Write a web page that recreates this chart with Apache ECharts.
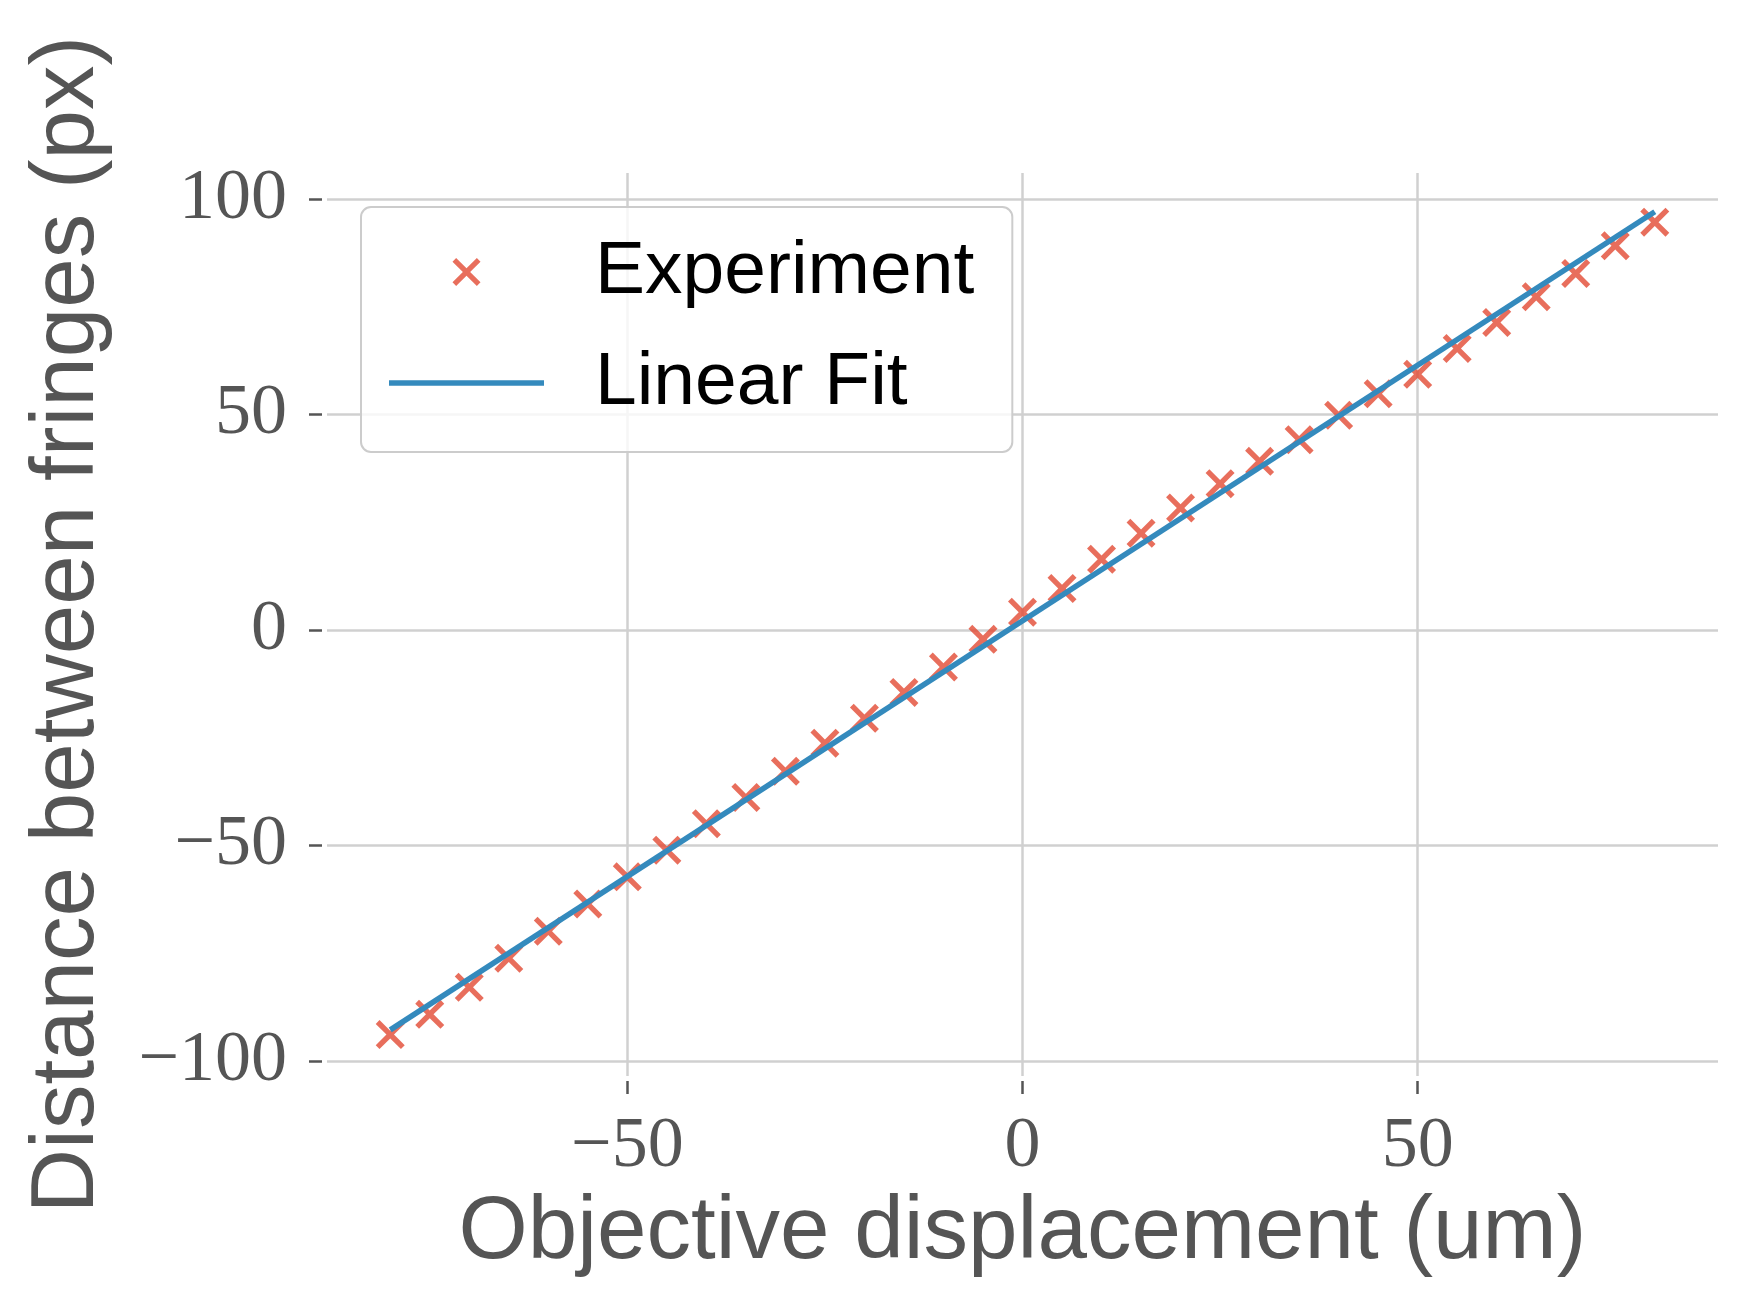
<!DOCTYPE html>
<html>
<head>
<meta charset="utf-8">
<script src="https://cdn.jsdelivr.net/npm/echarts@6/dist/echarts.min.js"></script>
<style>
    html, body { margin: 0; padding: 0; background: #ffffff; }
    #chart-container { width: 1753px; height: 1313px; }
</style>
</head>
<body>
<div id="chart-container"></div>
<script>
// objective displacement (um) and measured fringe distance (px)
const displacement = [-80, -75, -70, -65, -60, -55, -50, -45, -40, -35, -30, -25, -20, -15, -10, -5,
    0, 5, 10, 15, 20, 25, 30, 35, 40, 45, 50, 55, 60, 65, 70, 75, 80];
const fringeDistance = [-93.9, -89.2, -82.9, -76.2, -69.9, -63.6, -57.3, -51.1, -45.0, -38.9, -32.8, -26.3,
    -20.5, -14.5, -8.6, -2.2, 4.1, 9.6, 16.4, 22.4, 28.3, 33.9, 39.1, 44.1, 49.8, 54.8, 59.3, 65.3,
    71.3, 77.3, 82.7, 89.1, 94.6];
const fitX = [-80, 80];
const fitY = [-92.8, 97.0];

const xTicks = [-50, 0, 50];
const yTicks = [-100, -50, 0, 50, 100];

// filled "x" marker, like matplotlib's 'x'
const crossPath = 'path://M0,13L13,0L50,37L87,0L100,13L63,50L100,87L87,100L50,63L13,100L0,87L37,50Z';
// legend handle for the fit line
const linePath = 'path://M0,0L155,0L155,5.5L0,5.5Z';

const fmt = function (v) {
    return v < 0 ? '\u2212' + (-v) : String(v);
};

const chart = echarts.init(document.getElementById('chart-container'));

const tickStyle = { show: true, inside: false, length: 13, lineStyle: { color: '#555555', width: 2.5 } };
const gridLine = { show: true, lineStyle: { color: '#d0d0d0', width: 2.5 } };
const tickFont = { color: '#555555', fontFamily: 'Liberation Serif', fontSize: 72 };
const titleFont = { color: '#555555', fontFamily: 'Liberation Sans', fontSize: 89 };

chart.setOption({
    animation: false,
    backgroundColor: '#ffffff',
    grid: { left: 327, right: 35, top: 173, bottom: 237, containLabel: false },
    legend: {
        orient: 'vertical',
        left: 361,
        top: 207,
        padding: [25, 38, 29, 28],
        itemWidth: 155,
        itemHeight: 28,
        itemGap: 31,
        backgroundColor: 'rgba(255,255,255,0.8)',
        borderColor: '#cccccc',
        borderWidth: 2,
        borderRadius: 10,
        textStyle: {
            color: '#000000',
            fontFamily: 'Liberation Sans',
            fontSize: 75,
            lineHeight: 80,
            padding: [0, 0, 0, 46]
        },
        data: [
            { name: 'Experiment', icon: crossPath },
            { name: 'Linear Fit', icon: linePath }
        ]
    },
    xAxis: {
        type: 'value',
        min: -88,
        max: 88,
        minInterval: 50,
        maxInterval: 50,
        offset: 5,
        name: 'Objective displacement (um)',
        nameLocation: 'middle',
        nameGap: 108,
        nameTextStyle: titleFont,
        axisLine: { show: false, onZero: false },
        axisTick: Object.assign({ customValues: xTicks }, tickStyle),
        axisLabel: Object.assign({ customValues: xTicks, margin: 30, formatter: fmt }, tickFont),
        splitLine: gridLine
    },
    yAxis: {
        type: 'value',
        min: -103.5,
        max: 106,
        minInterval: 50,
        maxInterval: 50,
        offset: 5,
        name: 'Distance between fringes (px)',
        nameLocation: 'middle',
        nameRotate: 90,
        nameGap: 209,
        nameTextStyle: titleFont,
        axisLine: { show: false, onZero: false },
        axisTick: Object.assign({ customValues: yTicks }, tickStyle),
        axisLabel: Object.assign({ customValues: yTicks, margin: 35, formatter: fmt }, tickFont),
        splitLine: gridLine
    },
    series: [
        {
            name: 'Experiment',
            type: 'scatter',
            data: displacement.map((x, i) => [x, fringeDistance[i]]),
            symbol: crossPath,
            symbolSize: 29,
            itemStyle: { color: '#E24A33' }
        },
        {
            name: 'Linear Fit',
            type: 'line',
            data: fitX.map((x, i) => [x, fitY[i]]),
            symbol: 'none',
            lineStyle: { color: '#348ABD', width: 5.5 },
            itemStyle: { color: '#348ABD' }
        }
    ]
});
</script>
</body>
</html>
